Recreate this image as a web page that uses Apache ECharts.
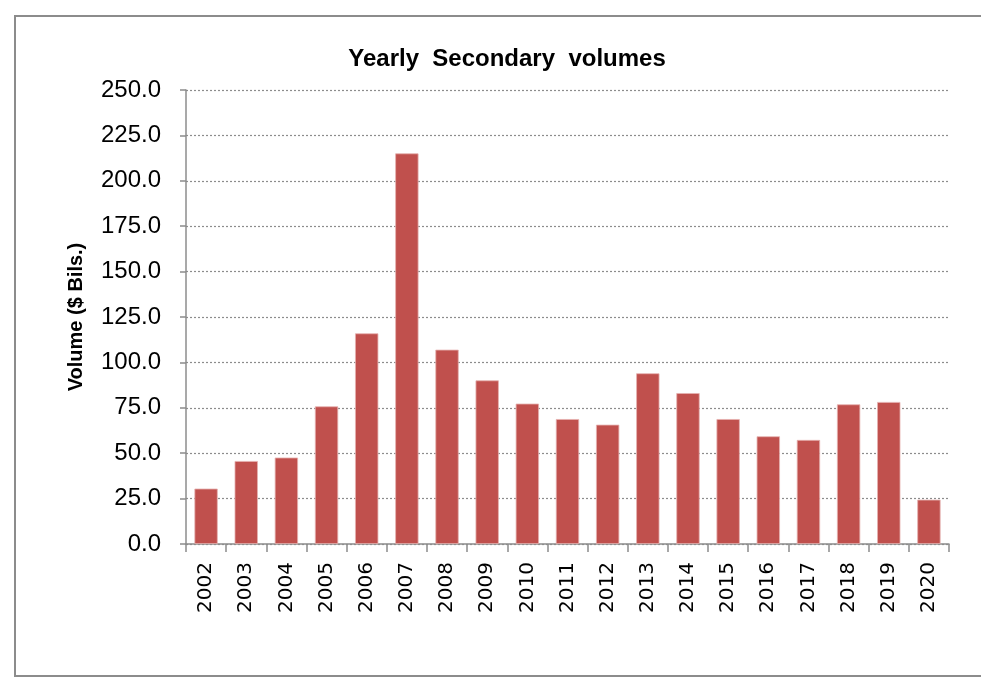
<!DOCTYPE html>
<html>
<head>
<meta charset="utf-8">
<script src="https://cdn.jsdelivr.net/npm/echarts@6/dist/echarts.min.js"></script>
<style>
  html, body { margin: 0; padding: 0; background: #fff; }
  #chart { width: 981px; height: 680px; }
</style>
</head>
<body>
<div id="chart"></div>
<script>
// data
const years = ['2002', '2003', '2004', '2005', '2006', '2007', '2008', '2009', '2010', '2011',
  '2012', '2013', '2014', '2015', '2016', '2017', '2018', '2019', '2020']
const volumes = [30.5, 45.7, 47.6, 75.8, 116.0, 215.1, 107.0, 90.1, 77.3, 68.8,
  65.7, 94.0, 83.1, 68.8, 59.3, 57.3, 76.9, 78.2, 24.4]
const yTicks = [0, 25, 50, 75, 100, 125, 150, 175, 200, 225, 250]

const axisGray = '#8c8c8c'

const option = {
  backgroundColor: '#fff',
  animation: false,
  title: {
    text: 'Yearly  Secondary  volumes',
    left: 502,
    top: 42,
    textAlign: 'center',
    textStyle: {
      fontFamily: 'Liberation Sans',
      fontWeight: 'bold',
      fontSize: 24,
      color: '#000',
    },
  },
  // outer frame like the spreadsheet chart area
  graphic: [
    {
      type: 'rect',
      shape: { x: 15, y: 16, width: 990, height: 660 },
      style: { fill: 'none', stroke: axisGray, lineWidth: 2 },
      silent: true,
    },
  ],
  grid: {
    left: 186,
    right: 32,
    top: 90,
    bottom: 136,
    containLabel: false,
  },
  xAxis: {
    type: 'category',
    data: years,
    boundaryGap: true,
    axisLine: { show: true, lineStyle: { color: axisGray, width: 1.5 } },
    axisTick: { show: true, length: 8, alignWithLabel: false, lineStyle: { color: axisGray, width: 1.5 } },
    axisLabel: {
      rotate: 90,
      margin: 18,
      interval: 0,
      color: '#000',
      fontFamily: 'DejaVu Sans',
      fontSize: 20,
    },
  },
  yAxis: {
    type: 'value',
    min: yTicks[0],
    max: yTicks[yTicks.length - 1],
    interval: 25,
    name: 'Volume ($ Bils.)',
    nameLocation: 'middle',
    nameGap: 100,
    nameTextStyle: {
      fontFamily: 'Liberation Sans',
      fontWeight: 'bold',
      fontSize: 20,
      color: '#000',
    },
    axisLine: { show: true, lineStyle: { color: axisGray, width: 1.5 } },
    axisTick: { show: true, length: 6, lineStyle: { color: axisGray, width: 1.5 } },
    axisLabel: {
      margin: 25,
      color: '#000',
      fontFamily: 'Liberation Sans',
      fontSize: 24,
      formatter: (v) => v.toFixed(1),
    },
    splitLine: {
      show: true,
      lineStyle: { color: axisGray, type: [2, 2], width: 1.2 },
    },
  },
  series: [
    {
      type: 'bar',
      data: volumes,
      barWidth: '58%',
      itemStyle: {
        color: '#C0504D',
        borderColor: '#e6b1b0',
        borderWidth: 0.8,
      },
    },
  ],
}

const myChart = echarts.init(document.getElementById('chart'))
myChart.setOption(option)
</script>
</body>
</html>
